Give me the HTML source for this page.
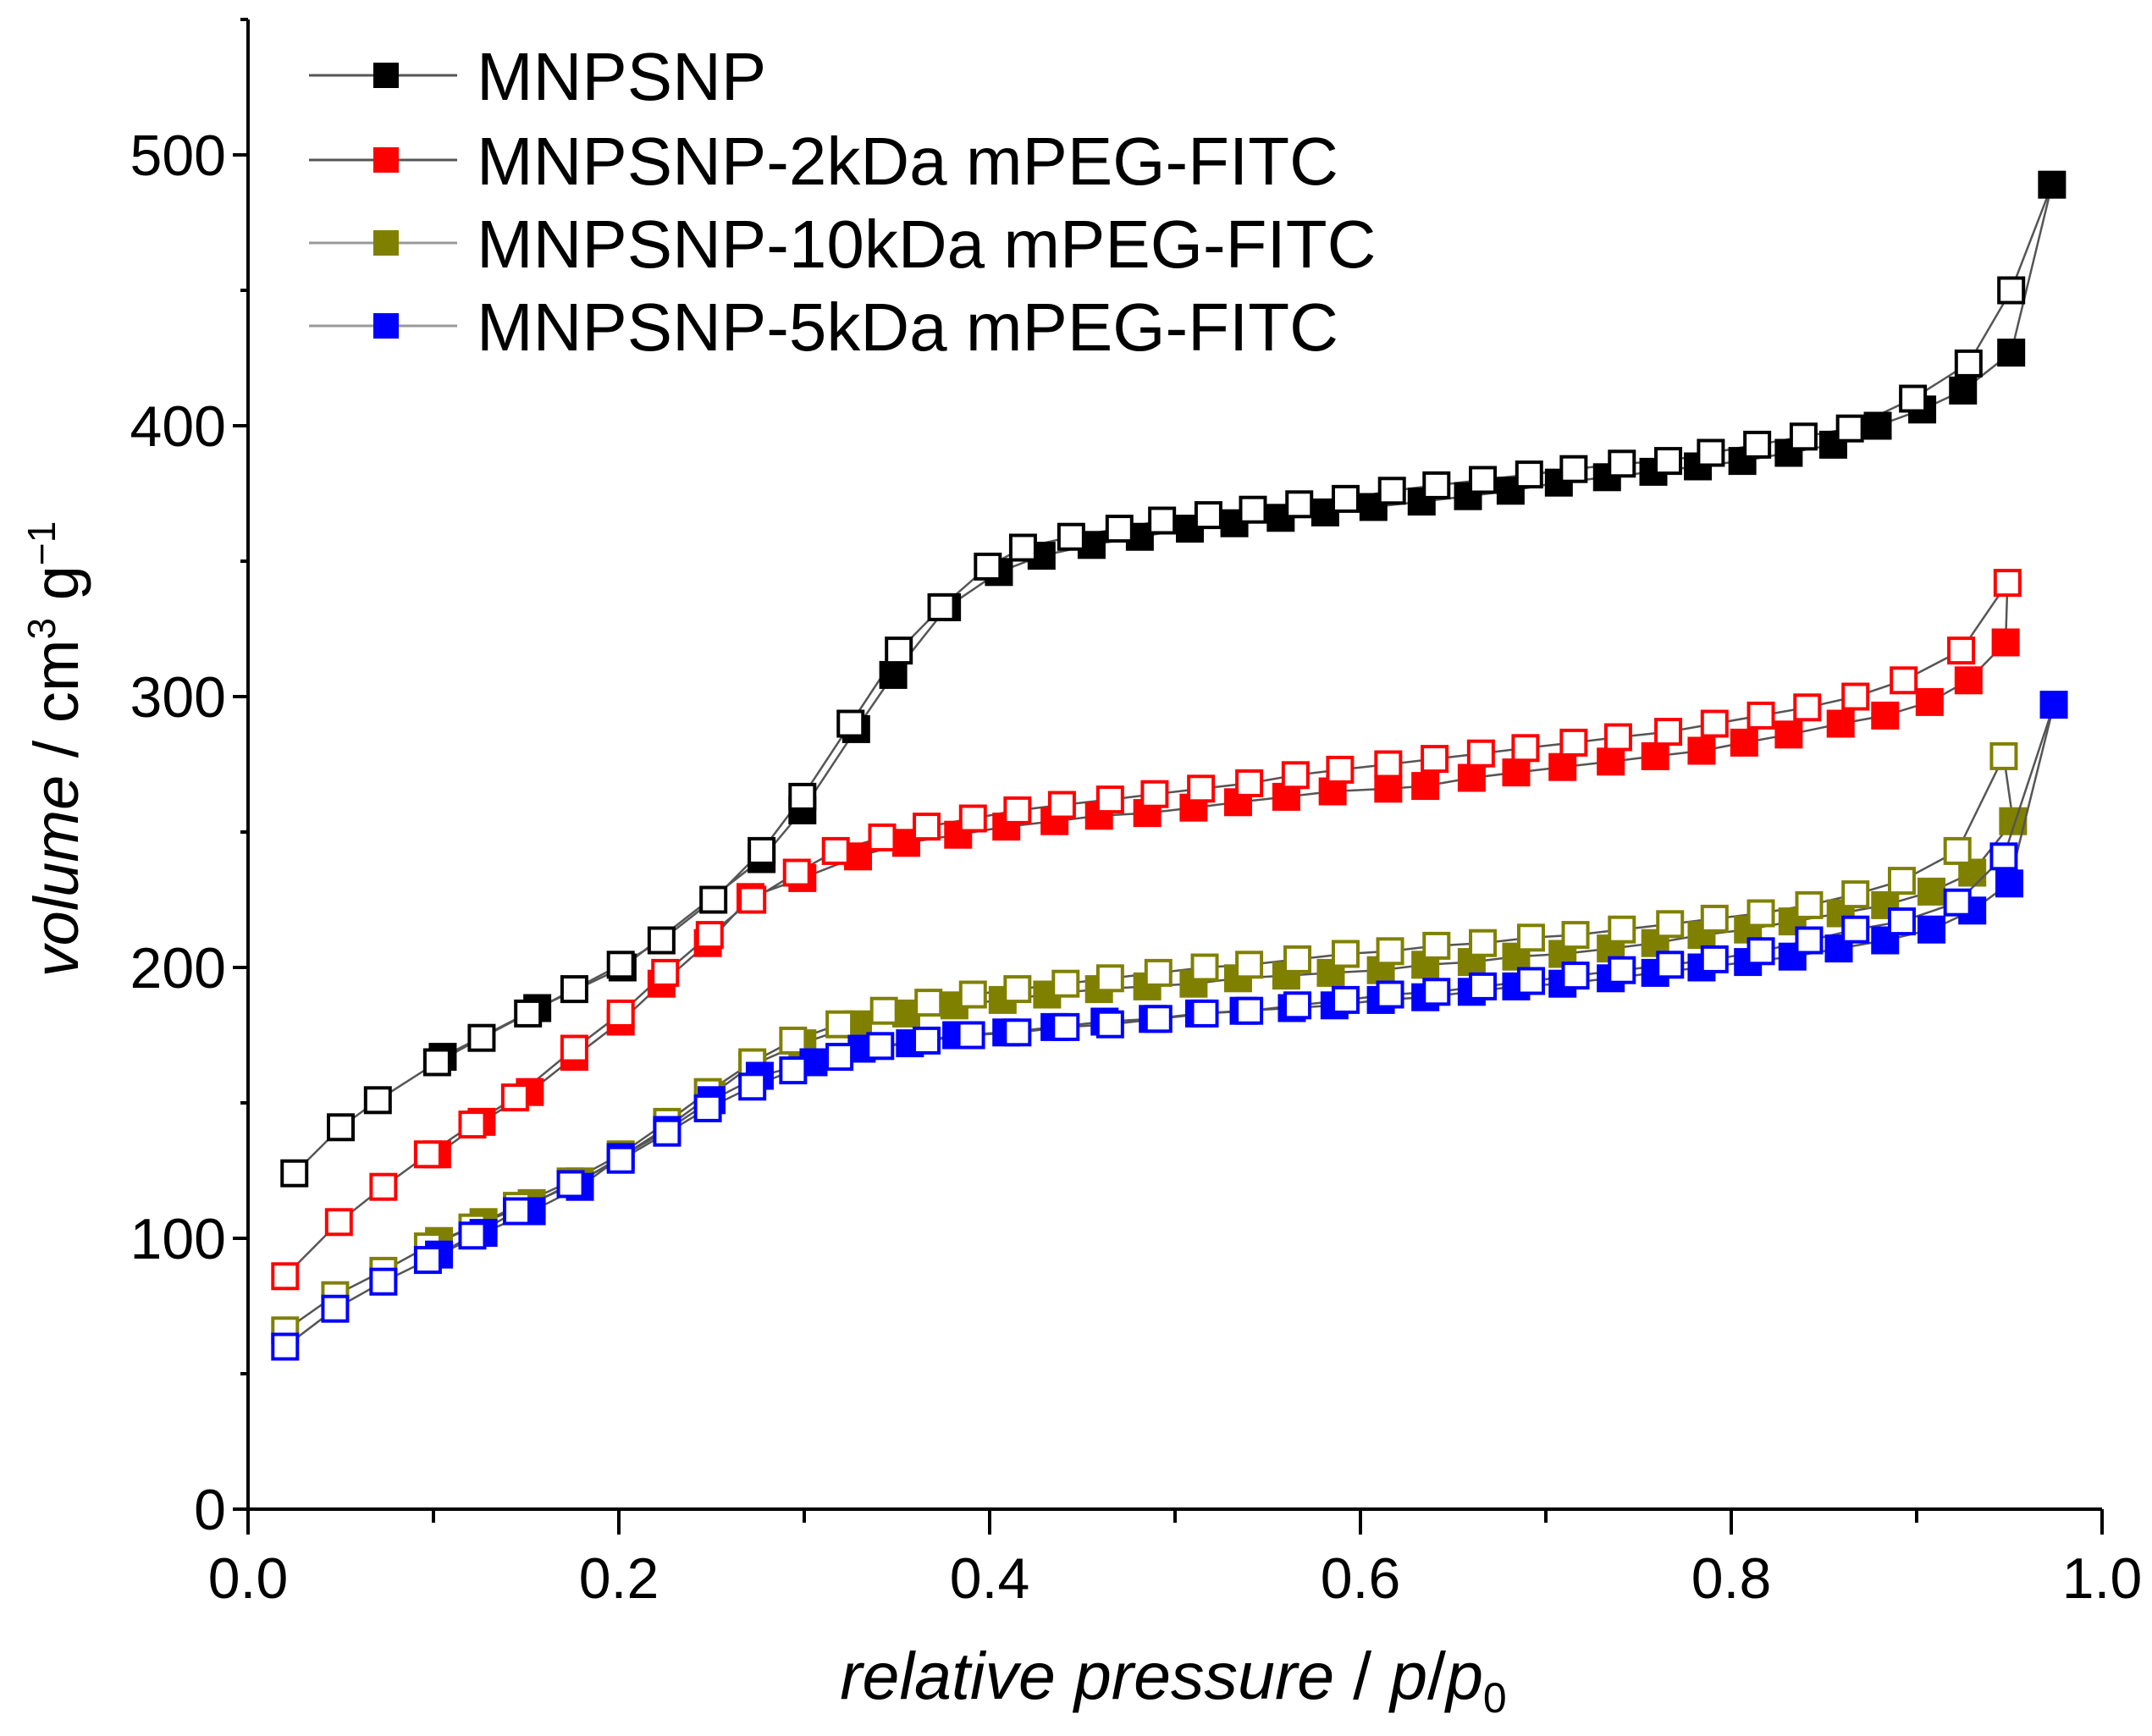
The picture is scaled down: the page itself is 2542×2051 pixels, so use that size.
<!DOCTYPE html>
<html><head><meta charset="utf-8"><style>
html,body{margin:0;padding:0;background:#fff}
svg{display:block}
text{font-family:"Liberation Sans",Arial,sans-serif;fill:#000}
</style></head><body>
<svg id="chart" width="2542" height="2051" viewBox="0 0 2542 2051" xmlns="http://www.w3.org/2000/svg">
<g id="axes"></g>
<g id="series"></g>
<g id="legend"></g>
<text transform="translate(92,885) rotate(-90)" text-anchor="middle" font-size="74"><tspan font-style="italic">volume</tspan> / cm<tspan font-size="46" dy="-27">3</tspan><tspan dy="27"> g</tspan><tspan font-size="46" dy="-27">−1</tspan></text>
<text x="1386" y="2007" text-anchor="middle" font-size="79"><tspan font-style="italic">relative pressure</tspan> / <tspan font-style="italic">p</tspan>/<tspan font-style="italic">p</tspan><tspan font-size="50" dy="16">0</tspan></text>
</svg>
<script>
const xTicks=[0,0.2,0.4,0.6,0.8,1.0];
const xTickLabels=["0.0","0.2","0.4","0.6","0.8","1.0"];
const yTicks=[0,100,200,300,400,500];
const yTickLabels=["0","100","200","300","400","500"];
const seriesNames=["MNPSNP","MNPSNP-2kDa mPEG-FITC","MNPSNP-10kDa mPEG-FITC","MNPSNP-5kDa mPEG-FITC"];
const seriesColors=["#000000","#ff0000","#808000","#0000ff"];

const blackAdsP=[.105,.156,.202,.277,.299,.328,.348,.377,.405,.428,.455,.481,.508,.532,.557,.581,.607,.633,.658,.681,.707,.733,.758,.782,.806,.831,.855,.879,.903,.925,.951,.973];
const blackAdsV=[167,185,200,240,258,288,308,333,346,352,356,359,362,364,366,368,370,372,374,376,379,381,383,385,387,390,393,400,406,413,427,489];
const blackDesP=[.951,.928,.898,.864,.839,.814,.789,.766,.741,.715,.691,.666,.641,.617,.592,.567,.542,.518,.493,.470,.444,.418,.399,.374,.351,.325,.299,.277,.251,.223,.201,.176,.151,.126,.102,.070,.050,.025];
const blackDesV=[450,423,410,399,396,393,390,387,386,384,382,380,378,376,373,371,369,367,365,362,359,355,348,333,317,290,263,243,225,210,201,192,183,174,165,151,141,124];

const redAdsP=[.102,.126,.152,.176,.201,.223,.248,.271,.299,.329,.355,.383,.409,.435,.459,.485,.510,.534,.560,.585,.615,.635,.660,.684,.709,.735,.759,.784,.807,.831,.859,.883,.907,.928,.948];
const redAdsV=[131,143,154,167,180,194,209,226,233,241,246,249,252,254,256,257,259,261,263,265,266,267,270,272,274,276,278,280,283,286,290,293,298,306,320];
const redDesP=[.949,.924,.893,.867,.841,.816,.791,.766,.739,.715,.689,.665,.640,.615,.589,.565,.540,.514,.489,.465,.439,.415,.391,.366,.342,.317,.296,.272,.249,.225,.201,.176,.144,.121,.097,.073,.049,.020];
const redDesV=[342,317,306,300,296,293,290,287,285,283,281,279,277,275,273,271,268,266,264,262,260,258,255,252,248,243,235,225,212,198,183,170,152,142,131,119,106,86];

const oliveAdsP=[.103,.127,.153,.179,.201,.226,.250,.272,.299,.329,.355,.381,.407,.431,.459,.485,.510,.534,.560,.584,.611,.635,.660,.684,.709,.735,.759,.784,.809,.833,.859,.883,.908,.930,.952];
const oliveAdsV=[99,106,113,121,130,141,153,164,172,179,183,186,188,190,192,193,194,196,197,198,199,201,202,204,205,207,209,212,214,217,220,223,228,235,254];
const oliveDesP=[.947,.922,.892,.867,.842,.816,.791,.767,.741,.716,.692,.666,.641,.616,.592,.566,.540,.516,.491,.465,.441,.415,.391,.367,.343,.319,.294,.272,.248,.226,.201,.174,.145,.121,.097,.073,.047,.020];
const oliveDesV=[278,243,232,227,223,220,218,216,214,212,211,209,208,206,205,203,201,200,198,196,194,192,190,187,184,179,173,165,154,143,131,121,112,104,97,88,79,66];

const blueAdsP=[.103,.127,.153,.179,.201,.226,.250,.276,.305,.331,.357,.382,.409,.435,.462,.488,.513,.537,.563,.586,.611,.635,.660,.684,.709,.735,.759,.784,.809,.833,.858,.883,.908,.930,.950,.974];
const blueAdsV=[94,102,110,119,130,140,151,160,165,170,172,175,176,178,180,181,183,184,185,186,188,189,191,193,194,196,198,200,202,204,207,210,214,221,231,297];
const blueDesP=[.947,.922,.892,.867,.842,.816,.791,.767,.741,.716,.692,.666,.641,.616,.592,.566,.540,.516,.491,.465,.441,.415,.390,.366,.341,.319,.294,.272,.248,.226,.201,.174,.145,.121,.097,.073,.047,.020];
const blueDesV=[241,224,217,214,210,206,203,201,199,197,195,193,191,190,188,186,184,183,181,179,178,176,175,173,171,167,162,156,148,139,129,120,110,101,92,84,74,60];

const X0=293,X1=2483,Y0=1783,YPX=3.2;
function xs(p){return X0+p*(X1-X0);}
function ys(v){return Y0-v*YPX;}
const NS="http://www.w3.org/2000/svg";
function mk(tag,parent,attrs){const e=document.createElementNS(NS,tag);for(const k in attrs)e.setAttribute(k,attrs[k]);parent.appendChild(e);return e;}

const axes=document.getElementById('axes');
let el=mk('line',axes,{x1:X0,y1:Y0,x2:X1,y2:Y0,stroke:'#000','stroke-width':4});


el=mk('line',axes,{x1:X0,y1:Y0+2,x2:X0,y2:ys(550),stroke:'#000','stroke-width':4});


xTicks.forEach((t,i)=>{
  const e=mk('line',axes,{x1:xs(t),y1:Y0,x2:xs(t),y2:Y0+30,stroke:'#000','stroke-width':4});
  
  
  const l=mk('text',axes,{x:xs(t),y:Y0+105,'text-anchor':'middle','font-size':68});
  l.textContent=xTickLabels[i];
  
  
  if(i<xTicks.length-1){
    const m=mk('line',axes,{x1:xs(t+0.1),y1:Y0,x2:xs(t+0.1),y2:Y0+16,stroke:'#000','stroke-width':4});
    
    
  }
});
yTicks.forEach((t,i)=>{
  const e=mk('line',axes,{x1:X0-18,y1:ys(t),x2:X0,y2:ys(t),stroke:'#000','stroke-width':4});
  
  
  const l=mk('text',axes,{x:X0-26,y:ys(t)+24,'text-anchor':'end','font-size':68});
  l.textContent=yTickLabels[i];
  
  
  const m=mk('line',axes,{x1:X0-9,y1:ys(t+50),x2:X0,y2:ys(t+50),stroke:'#000','stroke-width':4});
  
  
});

const S=33;
const allSeries=[[blackAdsP,blackAdsV,blackDesP,blackDesV],[redAdsP,redAdsV,redDesP,redDesV],[oliveAdsP,oliveAdsV,oliveDesP,oliveDesV],[blueAdsP,blueAdsV,blueDesP,blueDesV]];
const sg=document.getElementById('series');
allSeries.forEach((s,k)=>{
  const c=seriesColors[k];
  const g=mk('g',sg,{});
  
  
  const a=s[0].map((p,i)=>xs(p)+','+ys(s[1][i])).join(' ');
  const d=s[2].map((p,i)=>xs(p)+','+ys(s[3][i])).join(' ');
  let pl=mk('polyline',g,{points:a,fill:'none',stroke:'#555','stroke-width':2.5});
  
  
  pl=mk('polyline',g,{points:xs(s[0][s[0].length-1])+','+ys(s[1][s[1].length-1])+' '+d,fill:'none',stroke:'#555','stroke-width':2.5});
  
  
  s[0].forEach((p,i)=>{
    const r=mk('rect',g,{x:xs(p)-S/2,y:ys(s[1][i])-S/2,width:S,height:S,fill:c});
    
    
  });
  s[2].forEach((p,i)=>{
    const r=mk('rect',g,{x:xs(p)-S/2+2,y:ys(s[3][i])-S/2+2,width:S-4,height:S-4,fill:'#fff',stroke:c,'stroke-width':4});
    
    
  });
});

const lg=document.getElementById('legend');
const rowY=[89,189,287,385];
seriesNames.forEach((n,i)=>{
  const g=mk('g',lg,{});
  
  
  mk('line',g,{x1:365,y1:rowY[i],x2:540,y2:rowY[i],stroke:i<2?'#555':'#999','stroke-width':3});
  mk('rect',g,{x:441,y:rowY[i]-15,width:30,height:30,fill:seriesColors[i]});
  const t=mk('text',g,{x:563,y:rowY[i]+29,'font-size':80});
  t.textContent=n;
  
  
});
</script>
</body></html>
